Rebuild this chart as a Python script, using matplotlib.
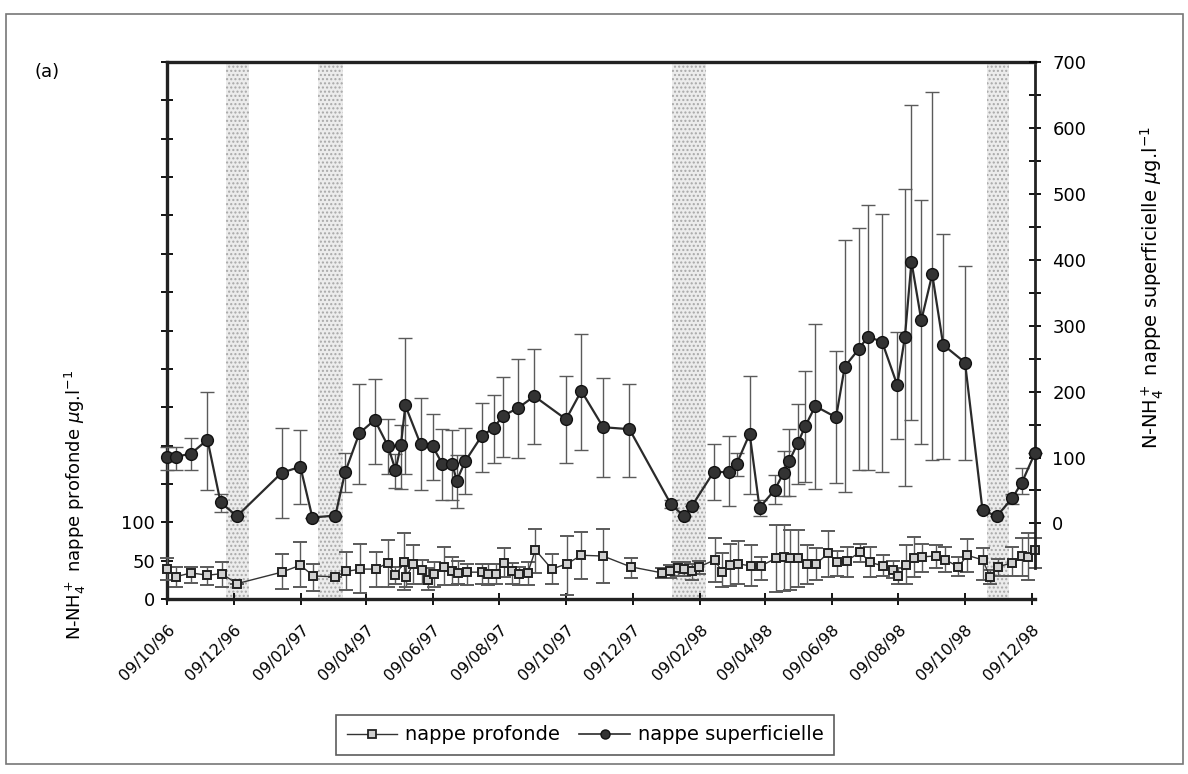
import numpy as np
import pandas as pd
import matplotlib
matplotlib.use("Agg")
import matplotlib.pyplot as plt
import matplotlib.dates as mdates
from matplotlib.lines import Line2D
from matplotlib.patches import Rectangle
from matplotlib.ticker import FuncFormatter, MultipleLocator

# ---------------- data ----------------
start_date = "1996-10-09"

# nappe superficielle (right axis) : days since start, mean, lower, upper
sup_days = [0, 8, 22, 37, 49, 64, 105, 122, 133, 154, 163, 176, 190, 202, 209, 214, 218,
            232, 243, 252, 261, 265, 273, 288, 299, 307, 321, 336, 365, 379, 399, 423,
            461, 473, 480, 500, 514, 521, 533, 542, 556, 564, 569, 577, 584, 593, 612,
            620, 633, 641, 654, 668, 675, 681, 690, 700, 710, 730, 746, 759, 773, 782, 794]
sup_val = [101, 101, 106, 127, 32, 11, 77, 86, 9, 12, 78, 137, 157, 118, 81, 119, 179,
           120, 117, 90, 90, 65, 95, 133, 145, 163, 175, 193, 158, 201, 146, 143,
           29, 11, 26, 78, 78, 90, 136, 24, 51, 77, 94, 122, 148, 178, 161,
           238, 265, 283, 276, 210, 283, 397, 308, 378, 271, 244, 20, 11, 38, 62, 107]
sup_lo = [81, 81, 81, 50, 18, 11, 9, 29, 9, 12, 48, 60, 90, 75, 54, 53, 75,
          50, 66, 35, 36, 24, 45, 78, 92, 101, 100, 121, 92, 112, 71, 71,
          23, 11, 26, 35, 26, 72, 45, 12, 29, 42, 42, 60, 63, 53, 62,
          47, 81, 81, 78, 128, 57, 157, 121, 96, 98, 96, 20, 11, 30, 45, 107]
sup_hi = [116, 116, 130, 200, 45, 11, 145, 142, 9, 12, 107, 211, 219, 158, 106, 150, 282,
          190, 166, 143, 142, 104, 145, 183, 195, 222, 250, 264, 223, 287, 220, 211,
          36, 11, 26, 121, 133, 107, 223, 35, 74, 110, 143, 181, 232, 303, 261,
          430, 448, 483, 469, 290, 507, 635, 490, 654, 439, 390, 20, 11, 45, 84, 107]

# nappe profonde (left axis)
prof_days = [0, 8, 22, 37, 50, 64, 105, 122, 134, 154, 164, 177, 191, 202, 209, 217, 219,
             225, 233, 239, 244, 253, 261, 266, 274, 288, 294, 301, 308, 316, 322, 330,
             337, 352, 366, 379, 399, 424, 453, 460, 467, 473, 480, 487, 501, 508, 515,
             522, 534, 543, 557, 564, 570, 577, 585, 594, 605, 613, 622, 634, 643, 655,
             664, 669, 676, 683, 691, 703, 712, 724, 732, 746, 753, 760, 773, 782, 788, 794]
prof_val = [39, 29, 34, 31, 33, 20, 35, 44, 30, 29, 36, 39, 39, 47, 31, 48, 29,
            45, 38, 25, 33, 42, 36, 34, 35, 35, 33, 33, 47, 36, 33, 34,
            64, 39, 46, 57, 56, 42, 34, 36, 40, 39, 36, 42, 51, 35, 44,
            46, 43, 43, 53, 55, 53, 53, 46, 46, 60, 48, 50, 61, 48, 43,
            38, 30, 44, 53, 55, 56, 51, 42, 57, 51, 29, 42, 47, 56, 55, 64]
prof_lo = [25, 16, 21, 18, 16, 20, 13, 16, 10, 29, 12, 8, 16, 16, 20, 12, 15,
           20, 20, 12, 15, 18, 18, 20, 18, 20, 18, 20, 29, 20, 18, 18,
           34, 20, 5, 26, 21, 27, 28, 28, 30, 30, 25, 32, 22, 15, 17,
           20, 17, 25, 9, 10, 12, 15, 20, 25, 29, 30, 29, 48, 29, 30,
           28, 20, 20, 29, 35, 40, 35, 30, 35, 25, 20, 30, 30, 30, 25, 40]
prof_hi = [53, 42, 42, 42, 48, 20, 59, 74, 46, 29, 61, 72, 61, 77, 42, 86, 45,
           70, 51, 40, 48, 68, 55, 50, 45, 45, 45, 45, 66, 47, 42, 48,
           91, 59, 82, 87, 91, 53, 40, 44, 48, 48, 45, 50, 79, 60, 72,
           76, 70, 55, 96, 96, 90, 90, 70, 66, 89, 63, 68, 72, 68, 58,
           50, 40, 70, 81, 72, 70, 68, 55, 78, 66, 38, 52, 68, 79, 86, 80]

# dry periods (shaded bands), days since start
band_start = [54, 138, 462, 750]
band_end = [75, 161, 493, 770]

x_tick_dates = ["1996-10-09", "1996-12-09", "1997-02-09", "1997-04-09", "1997-06-09",
                "1997-08-09", "1997-10-09", "1997-12-09", "1998-02-09", "1998-04-09",
                "1998-06-09", "1998-08-09", "1998-10-09", "1998-12-09"]

# ---------------- figure ----------------
t0 = pd.Timestamp(start_date)
def to_dates(days):
    return t0 + pd.to_timedelta(np.asarray(days), unit="D")

fig = plt.figure(figsize=(11.88, 7.74), dpi=100)
W, H = 1188.0, 774.0
x0, x1, ytop, ybot = 167, 1035, 62, 599
ax = fig.add_axes([x0 / W, 1 - ybot / H, (x1 - x0) / W, (ybot - ytop) / H])
ax2 = ax.twinx()

ax.set_xlim(t0, t0 + pd.Timedelta(days=794))
ax.set_ylim(0, 700)
ax2.set_ylim(-114.6, 695.5)

# shaded bands
for s, e in zip(band_start, band_end):
    ax.axvspan(to_dates([s])[0], to_dates([e])[0], facecolor="#ececec",
               hatch="....", edgecolor="#a8a8a8", linewidth=0, zorder=0)

# nappe profonde
pv = np.array(prof_val, float)
ax.errorbar(to_dates(prof_days), pv,
            yerr=[pv - np.array(prof_lo), np.array(prof_hi) - pv],
            fmt="-s", color="#333333", lw=1.0, ms=6, mfc="#d0d0d0", mec="#222222",
            mew=1.4, ecolor="#5a5a5a", elinewidth=1.0, capsize=5, capthick=1.0,
            clip_on=False, zorder=3)

# nappe superficielle
sv = np.array(sup_val, float)
ax2.errorbar(to_dates(sup_days), sv,
             yerr=[sv - np.array(sup_lo), np.array(sup_hi) - sv],
             fmt="-o", color="#2a2a2a", lw=1.6, ms=8.5, mfc="#333333", mec="#111111",
             ecolor="#5a5a5a", elinewidth=1.0, capsize=5, capthick=1.0,
             clip_on=False, zorder=3)

# spines
for sp in ["left", "bottom", "top"]:
    ax.spines[sp].set_linewidth(2.4)
    ax.spines[sp].set_color("#222222")
ax.spines["right"].set_visible(False)
for sp in ["left", "bottom", "top"]:
    ax2.spines[sp].set_visible(False)
ax2.spines["right"].set_linewidth(2.0)
ax2.spines["right"].set_color("#222222")
ax2.spines["right"].set_bounds(-68, 695.5)

# x axis
ax.set_xticks(pd.to_datetime(x_tick_dates))
ax.xaxis.set_major_formatter(mdates.DateFormatter("%d/%m/%y"))
ax.tick_params(axis="x", direction="inout", length=9, width=1.3, pad=12,
               labelsize=11.5)
for lab in ax.get_xticklabels():
    lab.set_rotation(45)
    lab.set_ha("right")
    lab.set_rotation_mode("anchor")

# left y axis
ax.yaxis.set_major_locator(MultipleLocator(50))
ax.yaxis.set_major_formatter(FuncFormatter(lambda v, p: f"{v:.0f}" if v <= 100 else ""))
ax.tick_params(axis="y", direction="inout", length=9, width=1.3, labelsize=13, pad=4)

# right y axis
ax2.set_yticks(np.arange(0, 701, 100))
ax2.set_yticks(np.arange(50, 651, 100), minor=True)
ax2.tick_params(axis="y", which="major", direction="inout", length=9, width=1.3,
                labelsize=13, pad=8)
ax2.tick_params(axis="y", which="minor", direction="inout", length=9, width=1.3)

# labels
fig.text(75 / W, 1 - 505 / H, r"N-NH$_4^+$ nappe profonde $\mu$g.l$^{-1}$",
         rotation=90, ha="center", va="center", fontsize=13)
fig.text(1152 / W, 1 - 288 / H, r"N-NH$_4^+$ nappe superficielle $\mu$g.l$^{-1}$",
         rotation=90, ha="center", va="center", fontsize=14)
fig.text(47 / W, 1 - 72 / H, "(a)", ha="center", va="center", fontsize=13)

# legend
handles = [Line2D([], [], color="#333333", lw=1.0, marker="s", ms=5.5, mfc="#d0d0d0",
                  mec="#222222", mew=1.3),
           Line2D([], [], color="#2a2a2a", lw=1.2, marker="o", ms=6.5, mfc="#333333",
                  mec="#111111")]
leg = fig.legend(handles, ["nappe profonde", "nappe superficielle"], ncol=2,
                 loc="center", bbox_to_anchor=(585 / W, 1 - 735 / H), fontsize=14,
                 frameon=True, fancybox=False, edgecolor="#333333",
                 handlelength=2.6, columnspacing=1.0, handletextpad=0.4,
                 borderpad=0.55)
leg.get_frame().set_linewidth(1.2)

# outer frame
fig.patches.append(Rectangle((6 / W, 1 - 764 / H), (1183 - 6) / W, (764 - 14) / H,
                             fill=False, edgecolor="#777777", lw=1.2,
                             transform=fig.transFigure))

fig.savefig("out.png", dpi=100)
